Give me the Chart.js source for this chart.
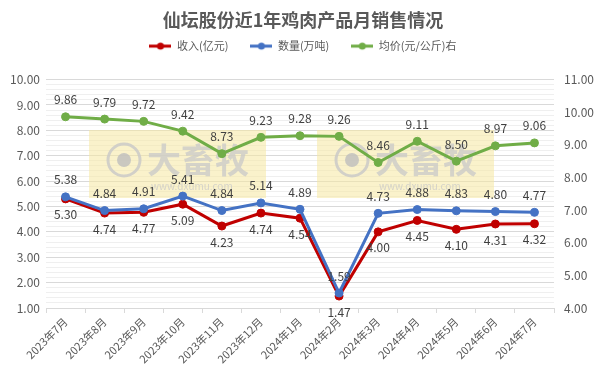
<!DOCTYPE html>
<html>
<head>
<meta charset="utf-8">
<script src="https://cdn.jsdelivr.net/npm/chart.js@4"></script>
<style>
  html, body { margin: 0; padding: 0; background: #fff; }
  #wrap { width: 606px; height: 377px; }
</style>
</head>
<body>
<div id="wrap"><canvas id="myChart"></canvas></div>
<script>
const months = [
    '2023年7月', '2023年8月', '2023年9月', '2023年10月', '2023年11月', '2023年12月',
    '2024年1月', '2024年2月', '2024年3月', '2024年4月', '2024年5月', '2024年6月', '2024年7月'
];

// 收入(亿元)
const revenue = [5.30, 4.74, 4.77, 5.09, 4.23, 4.74, 4.54, 1.47, 4.00, 4.45, 4.10, 4.31, 4.32];
// 数量(万吨)
const volume = [5.38, 4.84, 4.91, 5.41, 4.84, 5.14, 4.89, 1.59, 4.73, 4.88, 4.83, 4.80, 4.77];
// 均价(元/公斤) right axis
const price = [9.86, 9.79, 9.72, 9.42, 8.73, 9.23, 9.28, 9.26, 8.46, 9.11, 8.50, 8.97, 9.06];

const FONT = '"Noto Sans CJK SC", "Noto Sans", sans-serif';
const RED = '#C00000';
const BLUE = '#4472C4';
const GREEN = '#70AD47';

// small line+dot picture for the legend
const legendIcon = (color) => {
    const c = document.createElement('canvas');
    c.width = 22;
    c.height = 10;
    const g = c.getContext('2d');
    g.strokeStyle = color;
    g.lineWidth = 3;
    g.beginPath();
    g.moveTo(0, 5);
    g.lineTo(22, 5);
    g.stroke();
    g.fillStyle = color;
    g.beginPath();
    g.arc(11, 5, 3.5, 0, Math.PI * 2);
    g.fill();
    return c;
}

const isWhole = (v) => Math.abs(v - Math.round(v)) < 1e-6

// value labels above / below the points
const valueLabels = {
    id: 'valueLabels',
    afterDatasetsDraw(chart) {
        const ctx = chart.ctx;
        ctx.save();
        ctx.font = '12px ' + FONT;
        ctx.fillStyle = '#404040';
        ctx.textAlign = 'center';
        ctx.textBaseline = 'middle';
        chart.data.datasets.forEach((ds, i) => {
            const meta = chart.getDatasetMeta(i);
            const dy = ds.label === '收入(亿元)' ? 16 : -17;
            meta.data.forEach((pt, j) => {
                ctx.fillText(ds.data[j].toFixed(2), pt.x, pt.y + dy);
            });
        });
        ctx.restore();
    }
};

// faint site watermark behind the lines
const watermark = {
    id: 'watermark',
    beforeDatasetsDraw(chart) {
        const ctx = chart.ctx;
        ctx.save();
        [[89, 130], [317, 130]].forEach(([x, y]) => {
            ctx.fillStyle = 'rgba(245, 232, 160, 0.55)';
            ctx.fillRect(x, y, 177, 68);
            ctx.strokeStyle = 'rgba(200,200,200,0.8)';
            ctx.lineWidth = 3;
            ctx.beginPath();
            ctx.arc(x + 35, y + 30, 16, 0, Math.PI * 2);
            ctx.stroke();
            ctx.fillStyle = 'rgba(190,190,190,0.8)';
            ctx.beginPath();
            ctx.arc(x + 35, y + 30, 7, 0, Math.PI * 2);
            ctx.fill();
            ctx.font = 'bold 34px ' + FONT;
            ctx.textBaseline = 'middle';
            ctx.fillStyle = 'rgba(200,200,200,0.75)';
            ctx.fillText('大畜牧', x + 58, y + 30);
            ctx.font = '10px ' + FONT;
            ctx.fillText('www.dxumu.com', x + 62, y + 56);
        });
        ctx.restore();
    }
};

const data = {
    labels: months,
    datasets: [{
        label: '收入(亿元)',
        data: revenue,
        borderColor: RED,
        backgroundColor: RED,
        yAxisID: 'y',
        order: 3
    }, {
        label: '数量(万吨)',
        data: volume,
        borderColor: BLUE,
        backgroundColor: BLUE,
        yAxisID: 'y',
        order: 2
    }, {
        label: '均价(元/公斤)右',
        data: price,
        borderColor: GREEN,
        backgroundColor: GREEN,
        yAxisID: 'y1',
        order: 1
    }]
};

const config = {
    type: 'line',
    data: data,
    options: {
        responsive: true,
        maintainAspectRatio: false,
        animation: false,
        devicePixelRatio: 1,
        elements: {
            line: { borderWidth: 3, tension: 0 },
            point: { radius: 4, hoverRadius: 4 }
        },
        layout: { padding: { left: 8, right: 8, top: 8, bottom: 0 } },
        plugins: {
            tooltip: { enabled: false },
            title: {
                display: true,
                text: '仙坛股份近1年鸡肉产品月销售情况',
                color: '#595959',
                font: { family: FONT, size: 18, weight: 'bold' },
                padding: { top: 1, bottom: -12 }
            },
            // empty spacer between legend and plot
            subtitle: {
                display: true,
                text: ' ',
                weight: 500,
                font: { family: FONT, size: 10 },
                padding: { top: 2, bottom: 4 }
            },
            legend: {
                display: true,
                labels: {
                    usePointStyle: true,
                    pointStyleWidth: 22,
                    color: '#595959',
                    font: { family: FONT, size: 11 },
                    padding: 22,
                    generateLabels: (chart) => chart.data.datasets.map((ds, i) => ({
                        text: ds.label,
                        fillStyle: ds.borderColor,
                        strokeStyle: ds.borderColor,
                        lineWidth: 0,
                        pointStyle: legendIcon(ds.borderColor),
                        fontColor: '#595959',
                        hidden: false,
                        datasetIndex: i
                    }))
                }
            }
        },
        scales: {
            x: {
                offset: true,
                grid: {
                    offset: true,
                    drawOnChartArea: false,
                    color: '#d9d9d9',
                    tickLength: 5
                },
                border: { color: '#d9d9d9' },
                ticks: {
                    color: '#595959',
                    font: { family: FONT, size: 11 },
                    maxRotation: 45,
                    minRotation: 45,
                    autoSkip: false,
                    padding: 2
                },
                afterFit: (scale) => { scale.height = 69; }
            },
            y: {
                position: 'left',
                min: 1,
                max: 10,
                border: { display: false },
                grid: {
                    color: (c) => isWhole(c.tick.value) ? '#d9d9d9' : '#efefef',
                    drawTicks: false
                },
                ticks: {
                    stepSize: 0.2,
                    autoSkip: false,
                    color: '#595959',
                    padding: 6,
                    font: { family: FONT, size: 12 },
                    callback: (v) => isWhole(v) ? Number(v).toFixed(2) : ''
                },
                afterFit: (scale) => { scale.width = 38; }
            },
            y1: {
                position: 'right',
                min: 4,
                max: 11,
                border: { display: false },
                grid: { display: false, drawTicks: false },
                ticks: {
                    stepSize: 1,
                    color: '#595959',
                    padding: 10,
                    font: { family: FONT, size: 12 },
                    callback: (v) => Number(v).toFixed(2)
                },
                afterFit: (scale) => { scale.width = 44; }
            }
        }
    },
    plugins: [watermark, valueLabels]
};

const myChart = new Chart(
    document.getElementById('myChart'),
    config
);
</script>
</body>
</html>
